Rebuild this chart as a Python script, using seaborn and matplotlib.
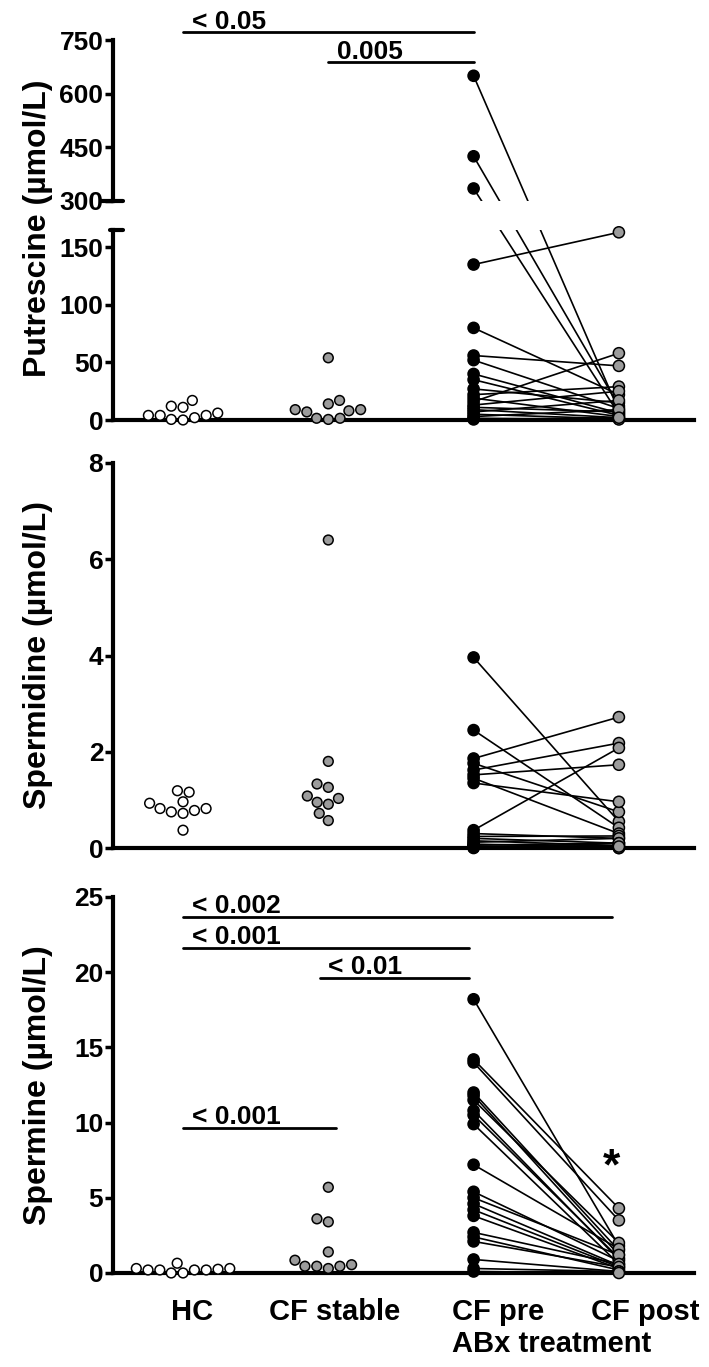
import numpy as np
import pandas as pd
import matplotlib
matplotlib.use("Agg")
import matplotlib.pyplot as plt
import seaborn as sns

groups = ["HC", "CF stable", "CF pre", "CF post"]
colors = {"HC": "white", "CF stable": "#9c9c9c", "CF pre": "black", "CF post": "#9c9c9c"}

# Putrescine (umol/L)
put_hc = [4, 12, 2, 6, 17, 0, 4, 0.5, 11, 4]
put_stable = [8, 1.5, 9, 54, 17, 0.5, 9, 1.5, 14, 7]
put_pre = [650, 425, 335, 135, 80, 56, 52, 40, 35, 27, 22, 19, 16, 13, 11, 9, 7, 5, 3, 1.5, 0.5]
put_post = [8, 12, 5, 163, 22, 47, 10, 6, 4, 15, 29, 3, 58, 25, 7, 2, 17, 1, 9, 0.5, 2]

# Spermidine (umol/L)
spd_hc = [0.82, 0.96, 0.78, 1.16, 0.75, 0.37, 1.19, 0.82, 0.72, 0.93]
spd_stable = [1.26, 1.03, 0.91, 1.33, 0.95, 0.57, 1.08, 0.72, 1.8, 6.4]
spd_pre = [3.96, 2.45, 1.86, 1.76, 1.62, 1.52, 1.45, 1.35, 0.37, 0.30, 0.24,
           0.20, 0.15, 0.12, 0.08, 0.06, 0.04, 0.03, 0.02, 0.01, 0.0]
spd_post = [0.55, 0.42, 2.72, 0.75, 2.18, 1.73, 0.3, 0.96, 2.08, 0.2, 0.25,
            0.1, 0.05, 0.2, 0.02, 0.1, 0.0, 0.05, 0.0, 0.1, 0.03]

# Spermine (umol/L)
spm_hc = [0.2, 0.25, 0.2, 0.3, 0.0, 0.65, 0.2, 0.0, 0.3, 0.2]
spm_stable = [0.55, 0.45, 3.6, 1.4, 5.7, 3.4, 0.3, 0.85, 0.45, 0.45]
spm_pre = [18.2, 14.2, 14.0, 12.0, 11.8, 11.5, 10.8, 10.5, 9.9, 7.2, 5.4,
           5.0, 4.6, 4.2, 3.8, 2.7, 2.4, 2.1, 0.9, 0.3, 0.1]
spm_post = [1.8, 4.3, 3.5, 1.5, 1.2, 2.0, 0.9, 1.0, 0.6, 1.6, 0.8,
            1.2, 0.5, 0.4, 0.3, 0.6, 0.2, 0.4, 0.1, 0.1, 0.0]

# significance bars: (x from, x to, y, label)
put_sig = [(0, 2, 773, "< 0.05"), (1, 2, 689, "0.005")]
spm_sig = [(0, 2.95, 23.7, "< 0.002"), (0, 1.97, 21.6, "< 0.001"),
           (0.94, 1.97, 19.6, "< 0.01"), (0, 1.05, 9.66, "< 0.001")]

sns.set_style("ticks")
plt.rcParams["font.family"] = ["Liberation Sans", "DejaVu Sans"]
plt.rcParams["font.weight"] = "bold"
for key in ["text.color", "axes.edgecolor", "axes.labelcolor", "xtick.color", "ytick.color"]:
    plt.rcParams[key] = "black"

W, H = 709, 1367
XL, XR = -0.482, 3.517


def box(top, bottom, left=113, right=694):
    return [left / W, 1 - bottom / H, (right - left) / W, (bottom - top) / H]


def single_frame(hc, stable):
    df = pd.DataFrame({"group": ["HC"] * len(hc) + ["CF stable"] * len(stable),
                       "value": hc + stable})
    df["pos"] = df["group"].map(groups.index).astype(float)
    return df


def pair_frame(pre, post):
    n = len(pre)
    df = pd.DataFrame({"pid": list(range(n)) * 2,
                       "group": ["CF pre"] * n + ["CF post"] * n,
                       "value": pre + post})
    df["pos"] = df["group"].map(groups.index).astype(float)
    return df


def draw_lines(ax, paired):
    sns.lineplot(data=paired, x="pos", y="value", units="pid", estimator=None,
                 color="black", lw=1.2, zorder=3, legend=False, ax=ax)


def draw_points(ax, df, swarm, size):
    kw = dict(data=df, x="pos", y="value", hue="group", palette=colors,
              native_scale=True, orient="v", size=size, edgecolor="black",
              linewidth=1.1, legend=False, clip_on=False, zorder=4, ax=ax)
    if swarm:
        sns.swarmplot(**kw)
    else:
        sns.stripplot(jitter=False, **kw)


def style(ax, ylim, ticks, bottom=True):
    ax.set_xlim(XL, XR)
    ax.set_ylim(*ylim)
    ax.set_yticks(ticks)
    ax.set_xticks([])
    ax.spines[["top", "right"]].set_visible(False)
    ax.spines["left"].set_linewidth(3)
    ax.spines["bottom"].set_linewidth(3)
    ax.spines["bottom"].set_visible(bottom)
    ax.tick_params(axis="y", width=2.5, length=6, labelsize=19, pad=1)
    ax.set_xlabel("")
    ax.set_ylabel("")


def sig_bars(ax, bars, dy):
    for x0, x1, y, label in bars:
        ax.plot([x0, x1], [y, y], color="black", lw=2, clip_on=False)
        ax.text(x0 + 0.06, y + dy, label, ha="left", va="baseline",
                fontsize=19, fontweight="bold")


fig = plt.figure(figsize=(W / 100, H / 100), dpi=100)
ax_u = fig.add_axes(box(40, 201))
ax_l = fig.add_axes(box(230, 420))
ax_m = fig.add_axes(box(463, 848))
ax_b = fig.add_axes(box(897, 1273))

# --- putrescine, broken axis -------------------------------------------
for ax, lim in [(ax_u, (300, 750)), (ax_l, (0, 165))]:
    ax.set_xlim(XL, XR)
    ax.set_ylim(*lim)


def shift(v, ax_to):
    src = ax_u if v >= 300 else ax_l
    y = src.transData.transform((0, v))[1]
    return ax_to.transData.inverted().transform((0, y))[1]


put_pairs = pair_frame(put_pre, put_post)
for ax in (ax_u, ax_l):
    eq = put_pairs.copy()
    eq["value"] = [shift(v, ax) for v in put_pairs["value"]]
    draw_lines(ax, eq)

draw_points(ax_u, put_pairs[put_pairs["value"] >= 300], False, 8)
draw_points(ax_l, single_frame(put_hc, put_stable), True, 7)
draw_points(ax_l, put_pairs[put_pairs["value"] <= 165], False, 8)

style(ax_u, (300, 750), [300, 450, 600, 750], bottom=False)
style(ax_l, (0, 165), [0, 50, 100, 150])
ax_u.plot([-0.02, 0.018], [300, 300], color="black", lw=3, clip_on=False,
          transform=ax_u.get_yaxis_transform())
ax_l.plot([-0.005, 0.018], [165, 165], color="black", lw=3, clip_on=False,
          transform=ax_l.get_yaxis_transform())
sig_bars(ax_u, put_sig, 8)

# --- spermidine ---------------------------------------------------------
spd_pairs = pair_frame(spd_pre, spd_post)
draw_lines(ax_m, spd_pairs)
draw_points(ax_m, single_frame(spd_hc, spd_stable), True, 7)
draw_points(ax_m, spd_pairs, False, 8)
style(ax_m, (0, 8), [0, 2, 4, 6, 8])

# --- spermine -----------------------------------------------------------
spm_pairs = pair_frame(spm_pre, spm_post)
draw_lines(ax_b, spm_pairs)
draw_points(ax_b, single_frame(spm_hc, spm_stable), True, 7)
draw_points(ax_b, spm_pairs, False, 8)
style(ax_b, (0, 25), [0, 5, 10, 15, 20, 25])
sig_bars(ax_b, spm_sig, 0.25)
ax_b.text(2.95, 7.0, "*", ha="center", va="center", fontsize=32, fontweight="bold")

# category labels under the bottom panel
tr = ax_b.get_xaxis_transform()
ax_b.text(0.06, -0.104, "HC", transform=tr, ha="center", va="center", fontsize=21)
ax_b.text(1.04, -0.104, "CF stable", transform=tr, ha="center", va="center", fontsize=21)
ax_b.text(1.851, -0.104, "CF pre", transform=tr, ha="left", va="center", fontsize=21)
ax_b.text(2.808, -0.104, "CF post", transform=tr, ha="left", va="center", fontsize=21)
ax_b.text(1.851, -0.189, "ABx treatment", transform=tr, ha="left", va="center", fontsize=21)

# y axis titles
for label, yc in [("Putrescine (µmol/L)", 228), ("Spermidine (µmol/L)", 655),
                  ("Spermine (µmol/L)", 1085)]:
    fig.text(38 / W, 1 - yc / H, label, rotation=90, ha="center", va="center",
             fontsize=23, fontweight="bold")

fig.savefig("out.png", dpi=100)
